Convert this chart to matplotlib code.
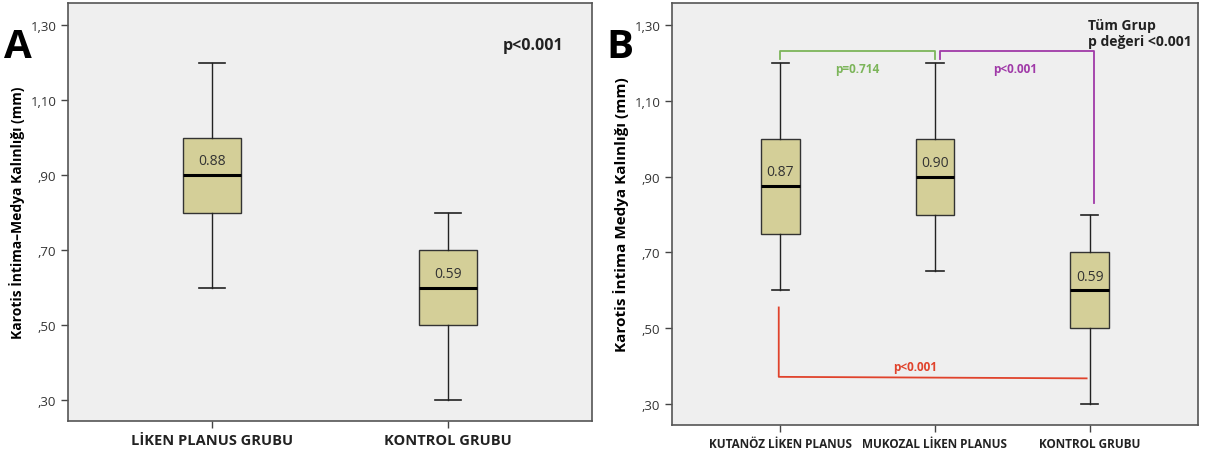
import numpy as np
import matplotlib as mpl
import matplotlib.pyplot as plt

plt.rcParams['font.family'] = ['Open Sans', 'DejaVu Sans']

# panel A data
a_groups = ['LİKEN PLANUS GRUBU', 'KONTROL GRUBU']
a_whislo = [0.60, 0.30]
a_q1 = [0.80, 0.50]
a_med = [0.90, 0.60]
a_q3 = [1.00, 0.70]
a_whishi = [1.20, 0.80]
a_labels = ['0.88', '0.59']

# panel B data
b_groups = ['KUTANÖZ LİKEN PLANUS', 'MUKOZAL LİKEN PLANUS', 'KONTROL GRUBU']
b_whislo = [0.60, 0.65, 0.30]
b_q1 = [0.75, 0.80, 0.50]
b_med = [0.875, 0.90, 0.60]
b_q3 = [1.00, 1.00, 0.70]
b_whishi = [1.20, 1.20, 0.80]
b_labels = ['0.87', '0.90', '0.59']

yticks = [0.30, 0.50, 0.70, 0.90, 1.10, 1.30]
ytick_labels = [',30', ',50', ',70', ',90', '1,10', '1,30']

box_color = '#d4cf98'
bg = '#efefef'


def make_stats(lo, q1, med, q3, hi):
    return [dict(whislo=lo[i], q1=q1[i], med=med[i], q3=q3[i], whishi=hi[i], fliers=[])
            for i in range(len(lo))]


def draw(ax, stats, labels, names, width, xlim, xfs):
    pos = np.arange(1, len(stats) + 1)
    ax.bxp(stats, positions=pos, widths=width, patch_artist=True, showfliers=False,
           boxprops=dict(facecolor=box_color, edgecolor='#333333', linewidth=1),
           medianprops=dict(color='black', linewidth=2.2),
           whiskerprops=dict(color='#222222', linewidth=1),
           capprops=dict(color='#222222', linewidth=1.2),
           capwidths=width * 0.45)
    for p, s, lab in zip(pos, stats, labels):
        ax.text(p, s['med'] + 0.018, lab, ha='center', va='bottom', fontsize=10, color='#333333')
    ax.set_facecolor(bg)
    ax.set_xlim(*xlim)
    ax.set_ylim(0.244, 1.359)
    ax.set_yticks(yticks)
    ax.set_yticklabels(ytick_labels, fontsize=9.5, color='#333333')
    ax.set_xticks(pos)
    ax.set_xticklabels(names, fontsize=xfs, fontweight='bold', color='#222222')
    ax.tick_params(axis='both', length=5, width=1, color='#444444')
    for sp in ax.spines.values():
        sp.set_color('#555555')
        sp.set_linewidth(1.2)


fig = plt.figure(figsize=(12.06, 4.52), dpi=100)

axA = fig.add_axes([68 / 1206, 1 - 422 / 452, 524 / 1206, 418 / 452])
draw(axA, make_stats(a_whislo, a_q1, a_med, a_q3, a_whishi), a_labels, a_groups,
     0.246, (0.389, 2.611), 10.5)
axA.set_ylabel('Karotis İntima–Medya Kalınlığı (mm)', fontsize=10, fontweight='bold')
axA.text(0.83, 0.9, 'p<0.001', transform=axA.transAxes, fontsize=11.5, fontweight='bold',
         ha='left', va='center', color='#222222')

axB = fig.add_axes([672 / 1206, 1 - 426 / 452, 526 / 1206, 422 / 452])
draw(axB, make_stats(b_whislo, b_q1, b_med, b_q3, b_whishi), b_labels, b_groups,
     0.25, (0.3, 3.7), 8.5)
axB.set_ylim(0.245, 1.358)
axB.set_ylabel('Karotis İntima Medya Kalınlığı (mm)', fontsize=11, fontweight='bold')

# comparison brackets
green = '#7cb55a'
purple = '#a03aa8'
red = '#e0432c'
axB.plot([1, 1, 2, 2], [1.21, 1.232, 1.232, 1.21], color=green, lw=1.3)
axB.text(1.5, 1.185, 'p=0.714', color=green, fontsize=8.5, fontweight='bold', ha='center', va='center')
axB.plot([2.03, 2.03, 3.03, 3.03], [1.21, 1.232, 1.232, 0.83], color=purple, lw=1.3)
axB.text(2.52, 1.185, 'p<0.001', color=purple, fontsize=8.5, fontweight='bold', ha='center', va='center')
axB.plot([0.99, 0.99, 2.98], [0.555, 0.372, 0.368], color=red, lw=1.3)
axB.text(1.87, 0.40, 'p<0.001', color=red, fontsize=8.5, fontweight='bold', ha='center', va='center')
axB.text(0.79, 0.965, 'Tüm Grup\np değeri <0.001', transform=axB.transAxes, fontsize=10,
         fontweight='bold', ha='left', va='top', color='#222222', linespacing=1.2)

fig.text(4 / 1206, 1 - 58 / 452, 'A', fontsize=29, fontweight='bold', va='baseline', ha='left')
fig.text(606 / 1206, 1 - 58 / 452, 'B', fontsize=29, fontweight='bold', va='baseline', ha='left')

fig.savefig('out.png', dpi=100)
